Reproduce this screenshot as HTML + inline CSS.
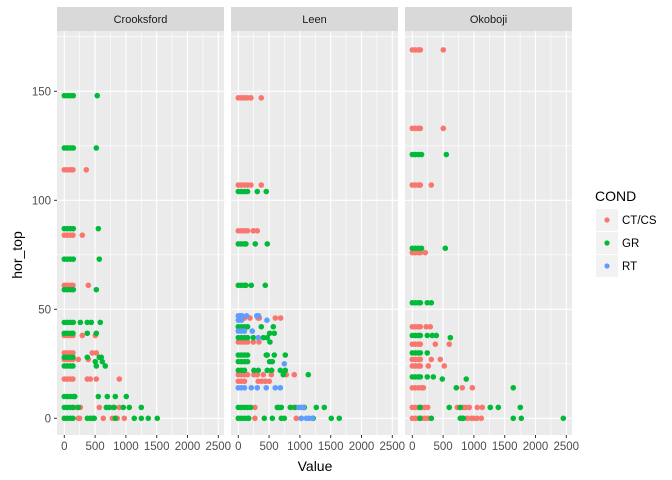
<!DOCTYPE html>
<html><head><meta charset="utf-8"><style>
html,body{margin:0;padding:0;background:#fff;}
svg{display:block;font-family:"Liberation Sans",Arial,sans-serif;}
</style></head><body>
<svg id="chart" width="672" height="480" viewBox="0 0 672 480">
<g id="panels"></g>
<text x="315" y="471" text-anchor="middle" font-size="14" fill="#000">Value</text>
<text transform="translate(22,255) rotate(-90)" text-anchor="middle" font-size="14" fill="#000">hor_top</text>
<g>
<text x="595" y="201" font-size="14" fill="#000">COND</text>
<g id="legend-keys"></g>
</g>
</svg>
<script>
const panelNames = ["Crooksford","Leen","Okoboji"];
const conds = ["CT/CS","GR","RT"];
const xTicks = [0,500,1000,1500,2000,2500];
const xTickLabels = ["0","500","1000","1500","2000","2500"];
const yTicks = [0,50,100,150];
const yTickLabels = ["0","50","100","150"];

const crooksfordCT = [[0,114],[50,114],[100,114],[140,114],[357,114],[0,84],[50,84],[100,84],[140,84],[292,84],[0,61],[50,61],[100,61],[140,61],[390,61],[0,38],[50,38],[100,38],[140,38],[292,38],[503,38],[0,30],[50,30],[100,30],[140,30],[454,30],[520,30],[0,27],[50,27],[100,27],[140,27],[227,27],[390,27],[0,18],[50,18],[100,18],[140,18],[373,18],[422,18],[520,18],[893,18],[150,5],[200,5],[260,5],[568,5],[779,5],[893,5],[0,0],[227,0],[250,0],[633,0],[779,0],[860,0],[974,0]];
const crooksfordGR = [[0,148],[50,148],[100,148],[146,148],[535,148],[0,124],[50,124],[100,124],[146,124],[520,124],[0,87],[50,87],[100,87],[146,87],[552,87],[0,73],[50,73],[100,73],[146,73],[568,73],[0,59],[50,59],[100,59],[146,59],[520,59],[0,44],[50,44],[100,44],[146,44],[260,44],[373,44],[438,44],[584,44],[0,39],[50,39],[100,39],[140,39],[373,39],[520,39],[0,28],[50,28],[100,28],[140,28],[373,28],[568,28],[600,28],[503,26],[617,26],[0,24],[50,24],[100,24],[140,24],[520,24],[665,24],[0,10],[50,10],[100,10],[150,10],[170,10],[552,10],[698,10],[828,10],[1006,10],[0,5],[50,5],[100,5],[140,5],[227,5],[682,5],[730,5],[811,5],[958,5],[1055,5],[1250,5],[0,0],[50,0],[100,0],[140,0],[373,0],[420,0],[460,0],[487,0],[828,0],[1136,0],[1250,0],[1363,0],[1509,0]];
const crooksfordRT = [];

const leenCT = [[0,147],[50,147],[100,147],[150,147],[205,147],[373,147],[0,107],[50,107],[100,107],[150,107],[205,107],[373,107],[0,86],[50,86],[100,86],[150,86],[243,86],[308,86],[50,46],[100,46],[189,46],[320,46],[341,46],[600,46],[687,46],[0,35],[50,35],[100,35],[150,35],[243,35],[335,35],[0,20],[50,20],[100,20],[150,20],[254,20],[308,20],[406,20],[536,20],[779,20],[909,20],[0,17],[50,17],[100,17],[324,17],[380,17],[440,17],[503,17],[270,5],[893,5],[0,0],[270,0],[941,0]];
const leenGR = [[0,104],[50,104],[100,104],[150,104],[308,104],[454,104],[0,80],[50,80],[100,80],[124,80],[276,80],[470,80],[0,61],[50,61],[100,61],[124,61],[211,61],[438,61],[0,42],[50,42],[100,42],[150,42],[373,42],[568,42],[508,39],[584,39],[0,37],[50,37],[100,37],[150,37],[243,37],[406,37],[470,37],[514,35],[0,29],[50,29],[100,29],[150,29],[454,29],[470,29],[584,29],[763,29],[0,26],[50,26],[100,26],[150,26],[508,26],[552,26],[0,22],[50,22],[100,22],[254,22],[324,22],[470,22],[541,22],[682,22],[763,22],[730,20],[1136,20],[0,5],[50,5],[100,5],[150,5],[200,5],[633,5],[660,5],[698,5],[844,5],[925,5],[1071,5],[1266,5],[1396,5],[0,0],[50,0],[100,0],[150,0],[170,0],[422,0],[552,0],[698,0],[747,0],[1022,0],[1217,0],[1509,0],[1639,0]];
const leenRT = [[0,47],[30,47],[60,47],[135,47],[300,47],[330,47],[0,45],[50,45],[465,45],[0,40],[50,40],[100,40],[227,40],[324,37],[747,25],[0,14],[50,14],[100,14],[211,14],[308,14],[454,14],[600,14],[682,14],[985,5],[1020,5],[1055,5],[1022,0],[1104,0],[1150,0],[1201,0]];

const okobojiCT = [[0,169],[50,169],[100,169],[130,169],[503,169],[0,133],[50,133],[100,133],[130,133],[503,133],[0,107],[50,107],[100,107],[130,107],[308,107],[0,76],[50,76],[100,76],[130,76],[211,76],[0,42],[50,42],[100,42],[130,42],[227,42],[292,42],[0,34],[50,34],[100,34],[130,34],[373,34],[600,34],[0,27],[50,27],[100,27],[130,27],[308,27],[454,27],[0,24],[50,24],[100,24],[130,24],[260,24],[519,24],[0,14],[50,14],[100,14],[150,14],[180,14],[811,14],[974,14],[0,5],[50,5],[100,5],[150,5],[200,5],[250,5],[730,5],[828,5],[870,5],[925,5],[1055,5],[1136,5],[0,0],[50,0],[100,0],[150,0],[200,0],[250,0],[308,0],[893,0],[958,0],[1000,0],[1050,0],[1120,0]];
const okobojiGR = [[0,121],[50,121],[100,121],[150,121],[552,121],[0,78],[50,78],[100,78],[150,78],[536,78],[0,53],[50,53],[100,53],[130,53],[243,53],[308,53],[0,38],[50,38],[100,38],[130,38],[243,38],[324,38],[390,38],[617,37],[0,30],[50,30],[100,30],[130,30],[243,30],[0,19],[50,19],[100,19],[130,19],[243,19],[341,19],[487,18],[876,18],[714,14],[1639,14],[124,5],[600,5],[779,5],[1266,5],[1396,5],[1753,5],[124,0],[308,0],[779,0],[800,0],[828,0],[1639,0],[1769,0],[2451,0]];
const okobojiRT = [];

const panelData = [[crooksfordCT,crooksfordGR,crooksfordRT],[leenCT,leenGR,leenRT],[okobojiCT,okobojiGR,okobojiRT]];
const colors = ["#F8766D","#00BA38","#619CFF"];
const panelLefts = [57,231,405];
const panelW = 167, plotTop = 31, plotBottom = 435, stripTop = 7;
const NS = "http://www.w3.org/2000/svg";
function el(tag, attrs, parent){const e=document.createElementNS(NS,tag);for(const k in attrs)e.setAttribute(k,attrs[k]);parent.appendChild(e);return e;}
function xScale(p,v){return panelLefts[p]+7.3+v*0.0616;}
function yScale(v){return 418.3-2.18*v;}

const root = document.getElementById("panels");
panelNames.forEach((name,p)=>{
  const g = el("g",{},root);
  
  
  const L = panelLefts[p];
  const bg = el("rect",{x:L,y:plotTop,width:panelW,height:plotBottom-plotTop,fill:"#EBEBEB"},g);
  
  
  const st = el("rect",{x:L,y:stripTop,width:panelW,height:plotTop-stripTop,fill:"#D9D9D9"},g);
  
  
  const stt = el("text",{x:L+panelW/2,y:23,"text-anchor":"middle","font-size":"11",fill:"#1A1A1A"},g);
  stt.textContent = name;
  
  
  [25,75,125,175].forEach(v=>{const y=yScale(v);if(y>plotTop)el("line",{x1:L,x2:L+panelW,y1:y,y2:y,stroke:"#fff","stroke-width":0.6},g);});
  [250,750,1250,1750,2250].forEach(v=>{const x=xScale(p,v);el("line",{x1:x,x2:x,y1:plotTop,y2:plotBottom,stroke:"#fff","stroke-width":0.6},g);});
  yTicks.forEach(v=>{const y=yScale(v);el("line",{x1:L,x2:L+panelW,y1:y,y2:y,stroke:"#fff","stroke-width":1.1},g);});
  xTicks.forEach((v,i)=>{const x=xScale(p,v);el("line",{x1:x,x2:x,y1:plotTop,y2:plotBottom,stroke:"#fff","stroke-width":1.1},g);
    el("line",{x1:x,x2:x,y1:plotBottom,y2:plotBottom+3,stroke:"#333","stroke-width":1},g);
    const t=el("text",{x:x,y:plotBottom+15,"text-anchor":"middle","font-size":"11.5",fill:"#4D4D4D"},g);
    t.textContent=xTickLabels[i];
    
    
  });
  panelData[p].forEach((pts,c)=>{
    pts.forEach(d=>{
      const dot = el("circle",{cx:xScale(p,d[0]),cy:yScale(d[1]),r:2.8,fill:colors[c]},g);
      
      
    });
  });
});
const svg = document.getElementById("chart");
yTicks.forEach((v,i)=>{const y=yScale(v);
  el("line",{x1:54,x2:57,y1:y,y2:y,stroke:"#333","stroke-width":1},svg);
  const t=el("text",{x:51,y:y+4,"text-anchor":"end","font-size":"11.5",fill:"#4D4D4D"},svg);
  t.textContent=yTickLabels[i];
  
  
});
const lg = document.getElementById("legend-keys");
conds.forEach((c,i)=>{
  const y0 = 209+i*23;
  const k = el("rect",{x:596,y:y0,width:22,height:22,fill:"#F2F2F2"},lg);
  
  
  el("circle",{cx:607,cy:y0+11,r:2.6,fill:colors[i]},lg);
  const t = el("text",{x:622,y:y0+15,"font-size":"11.5",fill:"#000"},lg);
  t.textContent=c;
  
  
});
</script>
</body></html>
